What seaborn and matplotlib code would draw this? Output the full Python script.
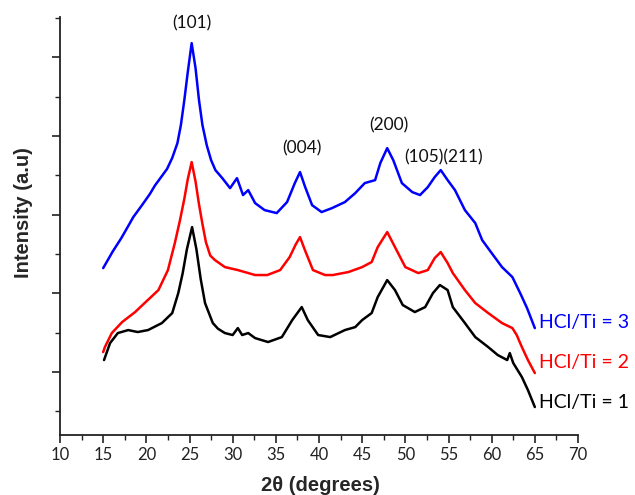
import matplotlib
matplotlib.use("Agg")
import matplotlib.pyplot as plt
from matplotlib.ticker import MultipleLocator, NullFormatter
import numpy as np
import pandas as pd
import seaborn as sns

# XRD patterns of TiO2 prepared at three HCl/Ti ratios (2-theta in degrees, intensity in a.u.)
theta_r3 = [15.0, 16.1, 17.1, 17.9, 18.5, 19.5, 20.4, 21.0, 22.4, 23.0, 23.6, 24.0, 24.4, 24.8,
            25.25, 25.7, 26.1, 26.5, 27.0, 27.5, 28.0, 28.8, 29.7, 30.5, 31.2, 31.8, 32.6,
            33.7, 35.1, 36.3, 37.2, 37.8, 38.4, 39.2, 40.3, 41.5, 43.0, 44.2, 45.3, 46.5, 47.1,
            47.9, 48.6, 49.6, 50.8, 51.7, 52.6, 53.4, 54.1, 54.9, 55.75, 56.9, 58.1, 58.9, 60.0,
            61.2, 62.4, 63.3, 64.1, 65.0]
int_r3 = [2320, 2530, 2701, 2854, 2970, 3120, 3260, 3370, 3580, 3720, 3908, 4136, 4454, 4810,
          5178, 4860, 4454, 4136, 3880, 3692, 3565, 3463, 3336, 3463, 3248, 3311, 3146,
          3057, 3019, 3159, 3400, 3540, 3349, 3120, 3032, 3082, 3159, 3273, 3400, 3438, 3654,
          3844, 3692, 3400, 3286, 3248, 3349, 3476, 3565, 3438, 3311, 3057, 2892, 2676, 2511,
          2333, 2206, 2003, 1812, 1558]

theta_r2 = [15.0, 15.2, 16.0, 17.2, 18.7, 19.8, 21.4, 22.5, 23.3, 23.9, 24.4, 24.8, 25.25, 25.7,
            26.1, 26.5, 26.9, 27.4, 27.95, 29.1, 30.6, 32.6, 34.0, 35.5, 36.6, 37.3, 37.8, 38.4,
            39.3, 40.7, 41.6, 43.4, 45.0, 46.1, 46.8, 47.9, 48.8, 50.0, 51.5, 52.6, 53.4, 54.1,
            54.9, 55.5, 56.9, 58.1, 59.6, 61.2, 62.4, 62.9, 63.5, 64.2, 65.0]
int_r2 = [1254, 1317, 1495, 1635, 1762, 1876, 2041, 2295, 2638, 2930, 3200, 3450, 3667, 3420,
          3130, 2880, 2650, 2480, 2422, 2333, 2295, 2232, 2232, 2295, 2460, 2620, 2714, 2540,
          2295, 2232, 2232, 2270, 2333, 2397, 2587, 2778, 2587, 2333, 2257, 2295, 2447, 2524,
          2384, 2257, 2041, 1876, 1749, 1622, 1558, 1470, 1317, 1152, 987]

theta_r1 = [15.1, 15.8, 16.7, 17.9, 19.0, 20.2, 21.8, 23.0, 23.7, 24.2, 24.7, 25.3, 25.8, 26.3,
            26.8, 27.7, 28.3, 29.1, 30.0, 30.6, 31.1, 31.8, 32.6, 34.1, 35.7, 36.9, 38.0, 38.7,
            39.9, 41.3, 43.0, 44.2, 45.0, 46.1, 46.8, 47.9, 48.8, 49.7, 51.1, 52.3, 53.2, 54.0,
            54.9, 55.5, 56.9, 58.1, 59.6, 60.7, 61.8, 62.1, 62.5, 63.5, 64.2, 65.0]
int_r1 = [1152, 1368, 1495, 1533, 1508, 1533, 1622, 1749, 2003, 2250, 2560, 2841, 2560, 2180,
          1876, 1622, 1550, 1495, 1470, 1558, 1470, 1495, 1431, 1381, 1444, 1660, 1825, 1660,
          1470, 1444, 1533, 1571, 1660, 1749, 1952, 2168, 2041, 1851, 1762, 1825, 2003, 2105,
          2041, 1825, 1622, 1444, 1317, 1216, 1152, 1241, 1114, 936, 771, 555]

series_names = ["HCl/Ti = 3", "HCl/Ti = 2", "HCl/Ti = 1"]
series_colors = ["#0000ff", "#ff0000", "#000000"]
series_label_y = [1635, 1127, 619]

peak_labels = ["(101)", "(004)", "(200)", "(105)(211)"]
peak_x = [25.3, 38.0, 48.1, 54.4]
peak_y = [5432, 3844, 4136, 3730]

frames = []
for name, th, it in zip(series_names, [theta_r3, theta_r2, theta_r1], [int_r3, int_r2, int_r1]):
    frames.append(pd.DataFrame({"two_theta": th, "intensity": it, "sample": name}))
df = pd.concat(frames, ignore_index=True)

sns.set_theme(style="ticks")
plt.rcParams["font.family"] = ["Lato", "DejaVu Sans"]

fig = plt.figure(figsize=(6.35, 4.95), dpi=100)
ax = fig.add_axes([60 / 635, 60 / 495, 518 / 635, 418 / 495])

sns.lineplot(data=df, x="two_theta", y="intensity", hue="sample",
             palette=dict(zip(series_names, series_colors)), hue_order=series_names,
             linewidth=1.8, legend=False, sort=False, estimator=None, ax=ax)

ax.set_xlim(10, 70)
ax.set_ylim(200, 5510)
ax.xaxis.set_major_locator(MultipleLocator(5))
ax.xaxis.set_minor_locator(MultipleLocator(2.5))
ax.yaxis.set_major_locator(MultipleLocator(1000))
ax.yaxis.set_minor_locator(MultipleLocator(500))
ax.yaxis.set_major_formatter(NullFormatter())

for side in ["top", "right"]:
    ax.spines[side].set_visible(False)
for side in ["left", "bottom"]:
    ax.spines[side].set_linewidth(1.3)
    ax.spines[side].set_color("#222222")

ax.tick_params(axis="both", which="major", direction="out", length=6, width=1.2,
               color="#222222", labelsize=12, labelcolor="#222222", pad=3)
ax.tick_params(axis="both", which="minor", direction="out", length=3.5, width=1.0,
               color="#222222")

ax.set_xlabel("2θ (degrees)", fontsize=14.5, fontweight="bold",
              family=["Liberation Sans", "DejaVu Sans"])
ax.set_ylabel("Intensity (a.u)", fontsize=14.5, fontweight="bold",
              family=["Liberation Sans", "DejaVu Sans"])
ax.xaxis.set_label_coords(0.502, -0.098)
ax.yaxis.set_label_coords(-0.052, 0.533)

for txt, px, py in zip(peak_labels, peak_x, peak_y):
    ax.text(px, py, txt, ha="center", va="center", fontsize=12.5, color="#111111")

for name, col, ly in zip(series_names, series_colors, series_label_y):
    ax.text(65.5, ly, name, ha="left", va="center", fontsize=14, color=col, clip_on=False)

fig.savefig("out.png", dpi=100)
